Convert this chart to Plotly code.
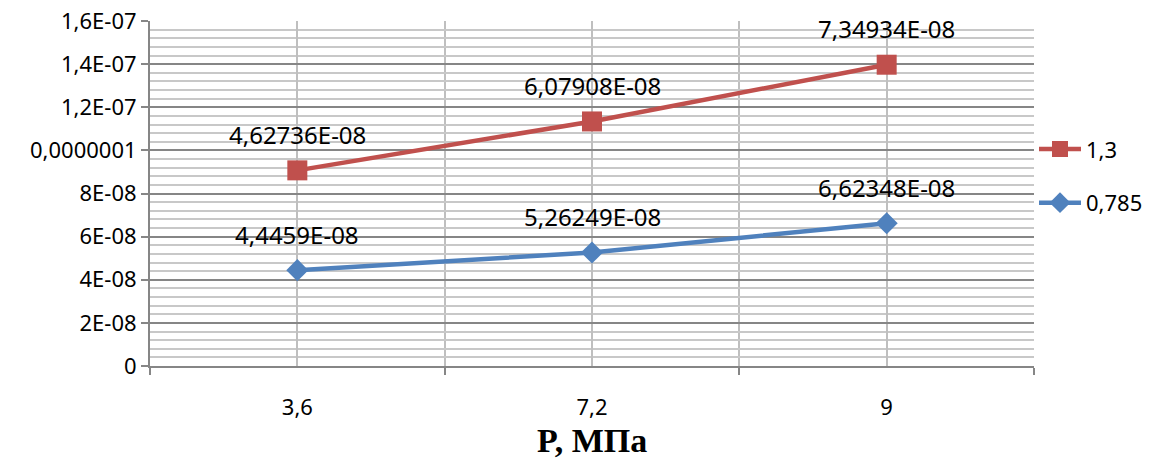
import numpy as np
import plotly.graph_objects as go

# Pressure categories (x) and series values
pressure_labels = ["3,6", "7,2", "9"]
series_0785 = [4.4459e-08, 5.26249e-08, 6.62348e-08]
series_13 = [4.62736e-08, 6.07908e-08, 7.34934e-08]

y_tick_values = [0, 2e-08, 4e-08, 6e-08, 8e-08, 1e-07, 1.2e-07, 1.4e-07, 1.6e-07]
y_tick_labels = ["0", "2E-08", "4E-08", "6E-08", "8E-08", "0,0000001",
                 "1,2E-07", "1,4E-07", "1,6E-07"]

BLUE = "#4F81BD"
RED = "#C0504D"
FONT = "Noto Sans"


def general_fmt(v):
    """Spreadsheet 'General' style scientific text with a decimal comma."""
    mant, exp = f"{v:.5E}".split("E")
    mant = mant.rstrip("0").rstrip(".")
    e = int(exp)
    return f"{mant}E{'-' if e < 0 else '+'}{abs(e):02d}".replace(".", ",")


x = np.arange(len(pressure_labels))
base = np.array(series_0785)
top = base + np.array(series_13)   # stacked line series

fig = go.Figure()
# upper (stacked) series listed first so the legend reads top-down
fig.add_trace(go.Scatter(
    x=x, y=top, name="1,3", mode="lines+markers", legendgroup="a",
    line=dict(color=RED, width=4.5),
    marker=dict(symbol="square", size=20, color=RED),
))
fig.add_trace(go.Scatter(
    x=x, y=base, name="0,785", mode="lines+markers", legendgroup="b",
    line=dict(color=BLUE, width=4.5),
    marker=dict(symbol="diamond", size=17, color=BLUE),
))

for yy, vals in ((base, series_0785), (top, series_13)):
    for xi, yi, v in zip(x, yy, vals):
        fig.add_annotation(x=xi, y=yi, text=general_fmt(v), showarrow=False,
                           yshift=36, font=dict(family=FONT, size=24, color="#000000"))

# x-axis title
fig.add_annotation(x=0.5, y=-0.2145, xref="paper", yref="paper", showarrow=False,
                   text="<b>P, МПа</b>", xanchor="center", yanchor="middle",
                   font=dict(family="Liberation Serif", size=34, color="#000000"))

fig.update_layout(
    width=1169, height=463,
    margin=dict(l=150, r=135, t=21, b=97),
    paper_bgcolor="white", plot_bgcolor="white",
    font=dict(family=FONT, size=22, color="#000000"),
    showlegend=True,
    legend=dict(traceorder="grouped", x=1.0, xanchor="left", y=0.55, yanchor="middle",
                font=dict(family=FONT, size=22), itemsizing="trace", itemwidth=42,
                bgcolor="rgba(0,0,0,0)", tracegroupgap=22),
)

fig.update_xaxes(
    range=[-0.5, 2.5], tickmode="array", tickvals=list(x), ticktext=pressure_labels,
    ticks="", showgrid=True, gridcolor="#BFBFBF", gridwidth=2,
    showline=True, linecolor="#868686", linewidth=2, zeroline=False,
    ticklabelstandoff=21, automargin=False,
    minor=dict(tickmode="array", tickvals=[-0.5, 0.5, 1.5, 2.5], ticks="outside",
               ticklen=7, tickwidth=2, tickcolor="#868686",
               showgrid=True, gridcolor="#BFBFBF", gridwidth=2),
)

fig.update_yaxes(
    range=[0, 1.6e-07], tickmode="array", tickvals=y_tick_values, ticktext=y_tick_labels,
    ticks="outside", ticklen=7, tickwidth=2, tickcolor="#868686",
    showgrid=True, gridcolor="#868686", gridwidth=2, automargin=False,
    showline=True, linecolor="#868686", linewidth=2, zeroline=False,
    minor=dict(tick0=0, dtick=4e-09, showgrid=True, gridcolor="#C8C8C8", gridwidth=1.5,
               ticks=""),
)

fig.write_html("out.html")
